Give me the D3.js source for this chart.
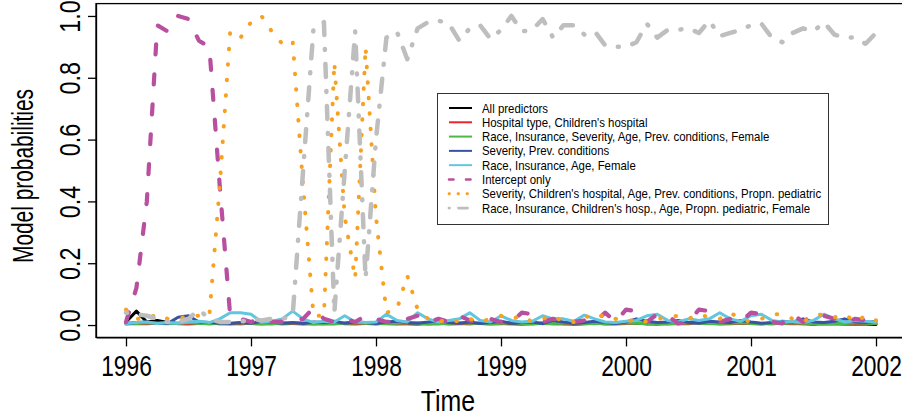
<!DOCTYPE html>
<html>
<head>
<meta charset="utf-8">
<script src="https://cdnjs.cloudflare.com/ajax/libs/d3/7.8.5/d3.min.js"></script>
<style>
  body { margin: 0; background: #fff; }
  text { font-family: "Liberation Sans", Arial, Helvetica, sans-serif; fill: #000; }
</style>
</head>
<body>
<svg id="chart" width="902" height="419"></svg>
<script>
// monthly time points, Jan 1996 .. Jan 2002
const months = d3.range(73).map(i => 1996 + i / 12);
const yearTicks = [1996, 1997, 1998, 1999, 2000, 2001, 2002];
const probTicks = [0, 0.2, 0.4, 0.6, 0.8, 1.0];

const seriesNames = [
    "All predictors",
    "Hospital type, Children's hospital",
    "Race, Insurance, Severity, Age, Prev. conditions, Female",
    "Severity, Prev. conditions",
    "Race, Insurance, Age, Female",
    "Intercept only",
    "Severity, Children's hospital, Age, Prev. conditions, Propn. pediatric",
    "Race, Insurance, Children's hosp., Age, Propn. pediatric, Female"
];

const allPredictors = [0.01,0.045,0.01,0.015,0.008,0.005,0.01,0.006,0.004,0.006,0.005,0.004,0.006,0.008,0.006,0.004,0.005,0.006,0.004,0.005,0.004,0.006,0.008,0.005,0.004,0.006,0.005,0.004,0.003,0.005,0.004,0.006,0.005,0.004,0.006,0.008,0.005,0.004,0.003,0.005,0.006,0.004,0.005,0.003,0.004,0.006,0.004,0.005,0.008,0.006,0.004,0.003,0.005,0.006,0.008,0.01,0.008,0.006,0.005,0.007,0.006,0.005,0.004,0.006,0.005,0.004,0.003,0.005,0.004,0.003,0.004,0.003,0.002];
const hospitalType = [0.003,0.005,0.004,0.006,0.008,0.004,0.003,0.005,0.007,0.004,0.003,0.006,0.005,0.003,0.004,0.007,0.005,0.003,0.004,0.006,0.008,0.004,0.003,0.005,0.006,0.004,0.003,0.005,0.007,0.004,0.006,0.003,0.004,0.006,0.005,0.003,0.004,0.007,0.005,0.003,0.006,0.008,0.004,0.003,0.005,0.006,0.004,0.003,0.005,0.007,0.004,0.006,0.003,0.005,0.004,0.008,0.006,0.003,0.004,0.006,0.005,0.003,0.007,0.005,0.004,0.006,0.003,0.005,0.004,0.006,0.003,0.004,0.005];
const raceInsSevAgePrevFem = [0.006,0.005,0.007,0.006,0.004,0.006,0.008,0.005,0.006,0.004,0.006,0.007,0.005,0.006,0.004,0.005,0.007,0.006,0.005,0.004,0.006,0.005,0.007,0.006,0.004,0.005,0.006,0.007,0.005,0.004,0.006,0.005,0.007,0.006,0.005,0.004,0.006,0.007,0.005,0.006,0.004,0.005,0.006,0.007,0.005,0.004,0.006,0.005,0.007,0.006,0.004,0.005,0.006,0.005,0.007,0.006,0.004,0.005,0.006,0.007,0.005,0.004,0.006,0.005,0.007,0.006,0.005,0.004,0.006,0.005,0.007,0.006,0.005];
const severityPrev = [0.005,0.008,0.01,0.006,0.005,0.025,0.03,0.01,0.008,0.006,0.005,0.008,0.006,0.012,0.01,0.006,0.008,0.005,0.01,0.008,0.012,0.006,0.01,0.008,0.005,0.01,0.012,0.008,0.006,0.01,0.015,0.008,0.006,0.01,0.005,0.008,0.012,0.006,0.008,0.01,0.005,0.015,0.01,0.006,0.008,0.012,0.008,0.005,0.01,0.02,0.012,0.008,0.01,0.015,0.008,0.006,0.012,0.01,0.008,0.015,0.01,0.006,0.008,0.012,0.01,0.02,0.01,0.008,0.012,0.02,0.01,0.008,0.012];
const raceInsAgeFem = [0.005,0.008,0.01,0.005,0.008,0.006,0.01,0.012,0.008,0.02,0.04,0.04,0.035,0.01,0.012,0.02,0.045,0.02,0.008,0.012,0.01,0.03,0.01,0.008,0.01,0.035,0.015,0.01,0.04,0.02,0.01,0.015,0.02,0.04,0.015,0.01,0.03,0.015,0.01,0.012,0.03,0.02,0.02,0.012,0.032,0.02,0.01,0.008,0.012,0.015,0.03,0.035,0.015,0.01,0.02,0.015,0.02,0.04,0.02,0.012,0.03,0.035,0.015,0.01,0.012,0.008,0.015,0.035,0.02,0.01,0.015,0.012,0.01];
const interceptOnly = [0.01,0.12,0.40,0.97,0.95,1.00,0.99,0.92,0.90,0.45,0.03,0.02,0.01,0.02,0.01,0.01,0.015,0.02,0.055,0.02,0.01,0.02,0.01,0.03,0.02,0.01,0.01,0.02,0.03,0.01,0.02,0.01,0.03,0.015,0.01,0.02,0.01,0.01,0.04,0.035,0.01,0.02,0.01,0.01,0.015,0.01,0.04,0.01,0.05,0.045,0.01,0.035,0.03,0.005,0.01,0.05,0.045,0.01,0.02,0.01,0.04,0.035,0.01,0.005,0.035,0.01,0.035,0.03,0.02,0.01,0.02,0.015,0.01];
const sevChildrensAgePrevPed = [0.05,0.02,0.02,0.035,0.02,0.02,0.03,0.03,0.03,0.45,0.95,0.93,0.98,1.00,0.95,0.91,0.92,0.45,0.03,0.03,0.85,0.35,0.15,0.90,0.35,0.04,0.05,0.16,0.05,0.02,0.01,0.02,0.01,0.02,0.01,0.02,0.03,0.02,0.03,0.01,0.02,0.03,0.01,0.01,0.03,0.02,0.035,0.02,0.01,0.02,0.01,0.02,0.025,0.03,0.02,0.035,0.025,0.02,0.04,0.02,0.01,0.02,0.035,0.035,0.02,0.01,0.03,0.035,0.025,0.035,0.01,0.03,0.015];
const raceInsChildrensAgePedFem = [0.04,0.035,0.03,0.02,0.01,0.01,0.02,0.05,0.02,0.01,0.01,0.01,0.02,0.015,0.02,0.02,0.03,0.50,0.96,0.98,0.04,0.50,0.95,0.15,0.60,0.93,0.95,0.86,0.96,0.98,0.985,0.975,0.92,0.96,0.97,0.925,0.955,1.0,0.95,0.955,0.99,0.93,0.97,0.97,0.94,0.95,0.905,0.9,0.9,0.915,0.975,0.93,0.955,0.955,0.96,0.945,0.985,0.935,0.945,0.955,0.97,0.975,0.93,0.915,0.945,0.96,0.95,0.98,0.94,0.93,0.93,0.91,0.945];

const seriesValues = [allPredictors, hospitalType, raceInsSevAgePrevFem, severityPrev,
    raceInsAgeFem, interceptOnly, sevChildrensAgePrevPed, raceInsChildrensAgePedFem];

const styles = [
    { color: "#000000", width: 3, dash: null, lw: 2, ldash: null },
    { color: "#e8262b", width: 3, dash: null, lw: 2, ldash: null },
    { color: "#4cb848", width: 3, dash: null, lw: 2, ldash: null },
    { color: "#3a52a4", width: 3, dash: null, lw: 2, ldash: null },
    { color: "#62c6de", width: 3, dash: null, lw: 2, ldash: null },
    { color: "#b8509f", width: 4.2, dash: "10,20", lw: 2.6, ldash: "4.5,12.5" },
    { color: "#f7a11e", width: 4, dash: "0.5,15", lw: 2.8, ldash: "0.5,8.5" },
    { color: "#bebebe", width: 4.5, dash: "1,14,13,14", lw: 2.8, ldash: "0.5,9,9,8" }
];

const svg = d3.select("#chart");
const x = d3.scaleLinear().domain([1996 - 0.24, 2002 + 0.24]).range([96, 906]);
const y = d3.scaleLinear().domain([-0.04, 1.04]).range([337.4, 3.6]);

// plot box
svg.append("rect")
    .attr("x", x.range()[0]).attr("y", y.range()[1])
    .attr("width", x.range()[1] - x.range()[0])
    .attr("height", y.range()[0] - y.range()[1])
    .attr("fill", "none").attr("stroke", "#000").attr("stroke-width", 1.3);

// lines
const line = d3.line().x((d, i) => x(months[i])).y(d => y(d));
seriesValues.forEach((vals, i) => {
    const s = styles[i];
    svg.append("path")
        .datum(vals)
        .attr("d", line)
        .attr("fill", "none")
        .attr("stroke", s.color)
        .attr("stroke-width", s.width)
        .attr("stroke-linecap", "round")
        .attr("stroke-linejoin", "round")
        .attr("stroke-dasharray", s.dash);
});

// x axis
const xAxis = svg.append("g")
    .attr("transform", `translate(0,${y.range()[0]})`)
    .call(d3.axisBottom(x).tickValues(yearTicks).tickFormat(d3.format("d"))
        .tickSize(9).tickSizeOuter(0));
xAxis.select(".domain").attr("stroke-width", 1.3);
xAxis.selectAll(".tick line").attr("stroke-width", 1.3);
xAxis.selectAll(".tick text")
    .attr("font-size", 30).attr("y", 0).attr("dy", 0)
    .attr("transform", "translate(0,39) scale(0.76,1)");

// y axis
const yAxis = svg.append("g")
    .attr("transform", `translate(${x.range()[0]},0)`)
    .call(d3.axisLeft(y).tickValues(probTicks).tickFormat(d3.format(".1f"))
        .tickSize(8).tickSizeOuter(0));
yAxis.select(".domain").attr("stroke-width", 1.3);
yAxis.selectAll(".tick line").attr("stroke-width", 1.3);
yAxis.selectAll(".tick text")
    .attr("font-size", 30).attr("x", 0).attr("dy", 0)
    .attr("text-anchor", "middle")
    .attr("transform", "translate(-16,0) rotate(-90) scale(0.78,1)");

// axis titles
svg.append("text")
    .attr("font-size", 29).attr("text-anchor", "middle")
    .attr("transform", "translate(448,411) scale(0.86,1)")
    .text("Time");
svg.append("text")
    .attr("font-size", 29).attr("text-anchor", "middle")
    .attr("transform", "translate(33,176) rotate(-90) scale(0.72,1)")
    .text("Model probabilities");

// legend
const legend = svg.append("g");
legend.append("rect")
    .attr("x", 437.5).attr("y", 93.5).attr("width", 391).attr("height", 131)
    .attr("fill", "#fff").attr("stroke", "#333").attr("stroke-width", 1);
seriesNames.forEach((name, i) => {
    const s = styles[i];
    const ly = 108 + i * 14.29;
    legend.append("line")
        .attr("x1", 449).attr("x2", 472).attr("y1", ly).attr("y2", ly)
        .attr("stroke", s.color).attr("stroke-width", s.lw)
        .attr("stroke-linecap", s.ldash ? "round" : "butt")
        .attr("stroke-dasharray", s.ldash);
    legend.append("text")
        .attr("font-size", 13)
        .attr("transform", `translate(482,${ly + 4.5}) scale(0.88,1)`)
        .text(name);
});
</script>
</body>
</html>
